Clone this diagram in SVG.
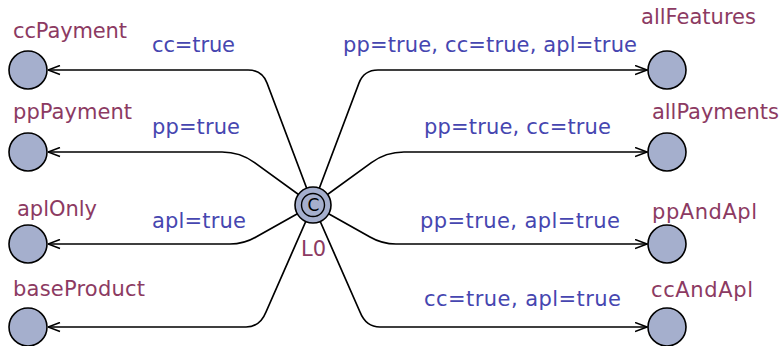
<svg xmlns="http://www.w3.org/2000/svg" width="781" height="346" viewBox="0 0 781 346">
<defs>
<style>
.loc{fill:#a5afcd;stroke:#000;stroke-width:1.6}
.name{font-family:"DejaVu Sans","Liberation Sans",sans-serif;font-size:21px;fill:#8c3a62}
.lbl{font-family:"DejaVu Sans","Liberation Sans",sans-serif;font-size:21px;fill:#4646b0}
.edge{fill:none;stroke:#000;stroke-width:1.7;marker-end:url(#arr)}
</style>
<marker id="arr" viewBox="0 0 13 11" refX="12.5" refY="5.5" markerWidth="13" markerHeight="11" markerUnits="userSpaceOnUse" orient="auto">
<path d="M0.5,1 L12.5,5.5 L0.5,10" fill="none" stroke="#000" stroke-width="1.6"/>
</marker>
</defs>
<rect width="781" height="346" fill="#fff"/>
<g id="connectors">
<path class="edge" d="M313,205 L267,83 Q262,70 248,70 L48,70"/>
<path class="edge" d="M313,205 L254.6,162.6 Q240,152 222,152 L48,152"/>
<path class="edge" d="M313,205 L256,237 Q244,244 230,244 L48,244"/>
<path class="edge" d="M313,205 L266,312 Q260,327 246,327 L48,327"/>
<path class="edge" d="M313,205 L359,83 Q364,70 378,70 L647,70"/>
<path class="edge" d="M313,205 L371.4,162.6 Q386,152 404,152 L647,152"/>
<path class="edge" d="M313,205 L370,237 Q382,244 396,244 L647,244"/>
<path class="edge" d="M313,205 L360,312 Q366,327 380,327 L647,327"/>
</g>
<g id="labels">
<text class="lbl" x="152" y="52" textLength="83" lengthAdjust="spacing">cc=true</text>
<text class="lbl" x="152" y="134" textLength="88" lengthAdjust="spacing">pp=true</text>
<text class="lbl" x="152" y="228" textLength="94" lengthAdjust="spacing">apl=true</text>
<text class="lbl" x="343" y="52" textLength="294" lengthAdjust="spacing">pp=true, cc=true, apl=true</text>
<text class="lbl" x="424" y="134" textLength="187" lengthAdjust="spacing">pp=true, cc=true</text>
<text class="lbl" x="420" y="228" textLength="200" lengthAdjust="spacing">pp=true, apl=true</text>
<text class="lbl" x="424" y="306" textLength="197" lengthAdjust="spacing">cc=true, apl=true</text>
</g>
<g id="L0">
<circle class="loc" cx="313" cy="205" r="18"/>
<circle cx="313" cy="205" r="11.5" fill="none" stroke="#000" stroke-width="1.4"/>
<text x="313.5" y="211" text-anchor="middle" font-family="DejaVu Sans, sans-serif" font-size="17" fill="#000">C</text>
<text class="name" x="301" y="256" textLength="25" lengthAdjust="spacing">L0</text>
</g>
<g id="ccPayment"><circle class="loc" cx="28" cy="70" r="19"/><text class="name" x="13" y="38" textLength="114" lengthAdjust="spacing">ccPayment</text></g>
<g id="ppPayment"><circle class="loc" cx="28" cy="152" r="19"/><text class="name" x="13" y="119" textLength="119" lengthAdjust="spacing">ppPayment</text></g>
<g id="aplOnly"><circle class="loc" cx="28" cy="244" r="19"/><text class="name" x="17" y="216" textLength="80" lengthAdjust="spacing">aplOnly</text></g>
<g id="baseProduct"><circle class="loc" cx="28" cy="327" r="19"/><text class="name" x="13" y="296" textLength="132" lengthAdjust="spacing">baseProduct</text></g>
<g id="allFeatures"><circle class="loc" cx="667" cy="70" r="19"/><text class="name" x="641" y="24" textLength="115" lengthAdjust="spacing">allFeatures</text></g>
<g id="allPayments"><circle class="loc" cx="667" cy="152" r="19"/><text class="name" x="652" y="119" textLength="127" lengthAdjust="spacing">allPayments</text></g>
<g id="ppAndApl"><circle class="loc" cx="667" cy="244" r="19"/><text class="name" x="652" y="219" textLength="105" lengthAdjust="spacing">ppAndApl</text></g>
<g id="ccAndApl"><circle class="loc" cx="667" cy="327" r="19"/><text class="name" x="651" y="297" textLength="102" lengthAdjust="spacing">ccAndApl</text></g>
</svg>
